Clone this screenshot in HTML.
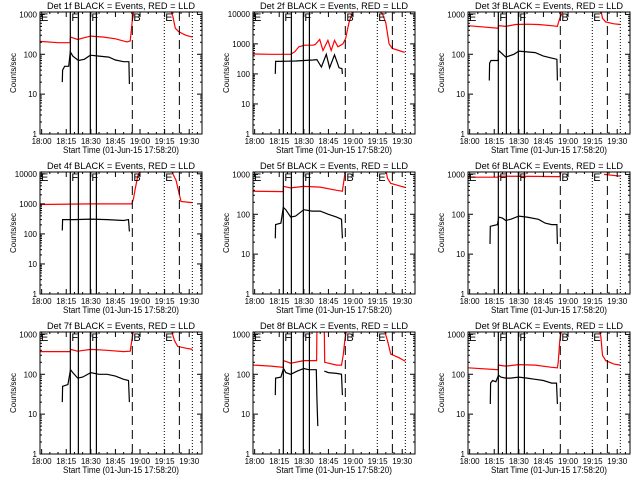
<!DOCTYPE html>
<html><head><meta charset="utf-8"><style>
html,body{margin:0;padding:0;background:#fff;}
svg{display:block;font-family:"Liberation Sans",sans-serif;}
</style></head><body>
<svg id="fig" width="640" height="480" viewBox="0 0 640 480" xmlns="http://www.w3.org/2000/svg"></svg>
<script>
// Time in minutes after 18:00
const xTickLabels = ["18:00","18:15","18:30","18:45","19:00","19:15","19:30"];
const xTickMinutes = [0,15,30,45,60,75,90];
const solidLines = [17.5,22.4,29.7,33.4];
const dashedLines = [55.3,84];
const dottedLines = [74.8,91.9];
const detNames = ["1f","2f","3f","4f","5f","6f","7f","8f","9f"];
const yMaxes = [1150,11500,1150,11500,1150,1150,1150,1150,1150];
const blackT1=[12.6,12.8,14,16.5,17.5,19,22.4,26,29.7,35,41,45,50,53.2,53.5];
const blackV1=[20,40,50,50,115,90,70,75,95,90,85,72,65,65,18];
const redT1a=[-1,10,17.4,17.6,22,26,30,38,45,52,54,55.3,56.5];
const redV1a=[210,195,195,270,235,260,285,270,245,205,215,700,1300];
const redT1b=[78.5,80,81.5,83.5,88,92];
const redV1b=[1300,900,450,370,300,270];
const blackT2=[12.6,12.8,14,20,25,30,35.6,38,40.7,43.7,45.7,48.7,51.5,53.2,53.5];
const blackV2=[100,260,260,265,270,280,290,300,170,450,160,430,160,150,100];
const redT2a=[-1,10,22,24.5,27,30.5,35.6,37,39.7,41.7,44.7,46.7,48.7,50.8,53.8,55.5,57.5,59,60];
const redV2a=[460,450,450,550,800,900,900,950,1400,600,1300,600,1300,800,1000,1500,5000,9000,13000];
const redT2b=[75.6,78,80,82,84,88,91.5];
const redV2b=[13000,10000,5000,1000,700,600,520];
const blackT3=[12,12.2,13,17.4,17.6,22,27,30,35,40,45,50,53.2,53.5];
const blackV3=[22,60,70,70,125,85,100,120,115,110,90,80,75,22];
const redT3a=[-1,17.4,17.6,22,28,35,42,50,53.5,54,55,56.5,57];
const redV3a=[520,450,520,500,560,570,560,520,500,600,800,1100,1300];
const redT3b=[80,81,83,88,92];
const redV3b=[1300,800,650,580,560];
const blackT4=[12.6,12.8,20,30,40,50,53,53.5];
const blackV4=[130,300,300,310,300,280,300,120];
const redT4a=[-1,30,55,56,57,58.5,60];
const redV4a=[950,1000,1000,1500,3000,8000,13000];
const redT4b=[79,80,82,84,85,88,92];
const redV4b=[13000,10000,6000,2000,1200,1150,1100];
const blackT5=[12.6,12.8,16,17.5,19,22,25,30,35,40,45,50,53,53.5];
const blackV5=[25,55,60,150,130,85,90,130,120,120,100,85,75,25];
const redT5a=[-1,17.4,17.6,22,30,40,50,53.5,54.2,55,55.5];
const redV5a=[380,370,500,460,500,480,400,380,600,1000,1300];
const redT5b=[80,81,83,88,92];
const redV5b=[1300,800,600,520,470];
const blackT6=[12.4,12.6,17,17.7,20,22,25,30,35,42,46,50,53.2,53.5];
const blackV6=[18,50,55,85,80,70,75,90,85,75,60,55,55,18];
const redT6a=[-1,17,18,40,55,56];
const redV6a=[850,850,900,890,880,1300];
const redT6b=[82,92];
const redV6b=[1000,900];
const blackT7=[12.6,12.8,16,17.6,19,22,25,30,35,40,45,50,53,53.5];
const blackV7=[20,50,55,130,110,80,85,110,100,100,90,75,70,20];
const redT7a=[-1,17.4,17.6,22,30,40,50,54,55,56];
const redV7a=[370,370,420,380,420,400,370,380,700,1300];
const redT7b=[79,81,83,88,92];
const redV7b=[1300,700,500,450,420];
const blackT8=[12.6,12.8,16,17.6,19,22,26,30,33,37.6,38,38.5,38.6,42.5,45,50,53,53.5];
const blackV8=[30,80,85,140,110,100,120,140,130,130,25,5,null,120,110,105,100,30];
const redT8a=[-1,10,17.4,17.6,22,30,37.8,38,38.1,42.5,42.7,45,50,53,54,55,56];
const redV8a=[170,160,150,220,190,220,220,1300,null,1300,200,190,170,170,300,700,1300];
const redT8b=[79,81,83,88,92];
const redV8b=[1300,700,320,260,210];
const blackT9=[12.6,12.8,14,16,17.6,19,22,25,30,35,40,45,50,53,53.5];
const blackV9=[18,60,70,65,95,85,80,80,85,80,75,70,60,60,18];
const redT9a=[-1,17.4,17.6,22,30,40,50,53.5,54,55,56];
const redV9a=[145,130,170,160,175,170,150,145,200,700,1300];
const redT9b=[79,80,81,83,88,92];
const redV9b=[1300,900,300,220,180,170];

const blackTs=[blackT1,blackT2,blackT3,blackT4,blackT5,blackT6,blackT7,blackT8,blackT9];
const blackVs=[blackV1,blackV2,blackV3,blackV4,blackV5,blackV6,blackV7,blackV8,blackV9];
const redTas=[redT1a,redT2a,redT3a,redT4a,redT5a,redT6a,redT7a,redT8a,redT9a];
const redVas=[redV1a,redV2a,redV3a,redV4a,redV5a,redV6a,redV7a,redV8a,redV9a];
const redTbs=[redT1b,redT2b,redT3b,redT4b,redT5b,redT6b,redT7b,redT8b,redT9b];
const redVbs=[redV1b,redV2b,redV3b,redV4b,redV5b,redV6b,redV7b,redV8b,redV9b];
const markerLetters=["E","F","F","B","E"];
const markerTimes=[-1,17.5,29.7,55.3,74.8];

const NS="http://www.w3.org/2000/svg";
const svg=document.getElementById('fig');
function mk(tag,attrs,parent){const e=document.createElementNS(NS,tag);for(const k in attrs)e.setAttribute(k,attrs[k]);(parent||svg).appendChild(e);return e;}
const colX=[40,253,468], rowY=[12,172,332], W=162, H=122;
const tMin=-1, tMax=97.8;

for(let p=0;p<9;p++){
  const L=colX[p%3], T=rowY[Math.floor(p/3)], B=T+H, R=L+W;
  const yMax=yMaxes[p];
  const xs=t=>L+(t-tMin)/(tMax-tMin)*W;
  const ys=v=>B-Math.log10(v)/Math.log10(yMax)*H;
  const g=mk('g',{});
  
  
  const clipId='clip'+p;
  const cp=mk('clipPath',{id:clipId},g); mk('rect',{x:L,y:T,width:W,height:H},cp);
  const title=mk('text',{x:L+W/2,y:T-3,'font-size':9,'text-anchor':'middle',textLength:148,lengthAdjust:'spacingAndGlyphs'},g);
  title.textContent='Det '+detNames[p]+' BLACK = Events, RED = LLD';
  
  
  function line(ts,vs,color,name){
    let d='',pen=false;
    for(let i=0;i<ts.length;i++){
      if(vs[i]===null){pen=false;continue;}
      d+=(pen?'L':'M')+xs(ts[i]).toFixed(1)+' '+ys(vs[i]).toFixed(1)+' ';pen=true;
    }
    const e=mk('path',{d:d,fill:'none',stroke:color,'stroke-width':1.2,'clip-path':'url(#'+clipId+')'},g);
    
    
  }
  line(redTas[p],redVas[p],'#ff0000','lld-series');
  line(redTbs[p],redVbs[p],'#ff0000','lld-series-late');
  line(blackTs[p],blackVs[p],'#000','events-series');
  solidLines.forEach(t=>{const e=mk('line',{x1:xs(t),x2:xs(t),y1:T,y2:B,stroke:'#000','stroke-width':1.2},g);
    
    });
  dashedLines.forEach(t=>{const e=mk('line',{x1:xs(t),x2:xs(t),y1:T,y2:B,stroke:'#000','stroke-width':1,'stroke-dasharray':'9,5'},g);
    
    });
  dottedLines.forEach(t=>{const e=mk('line',{x1:xs(t),x2:xs(t),y1:T,y2:B,stroke:'#000','stroke-width':1,'stroke-dasharray':'1,2'},g);
    
    });
  markerLetters.forEach((s,i)=>{const e=mk('text',{x:xs(markerTimes[i])+1,y:T+9,'font-size':11},g);e.textContent=s;
    
    });
  const box=mk('rect',{x:L,y:T,width:W,height:H,fill:'none',stroke:'#000','stroke-width':1},g);
  
  
  xTickMinutes.forEach((m,i)=>{
    const x=xs(m);
    mk('line',{x1:x,x2:x,y1:B,y2:B-5,stroke:'#000'},g);
    mk('line',{x1:x,x2:x,y1:T,y2:T+5,stroke:'#000'},g);
    const e=mk('text',{x:x,y:B+10,'font-size':8,'text-anchor':'middle'},g);e.textContent=xTickLabels[i];
    
    
  });
  for(let m=5;m<96;m+=5){if(m%15){const x=xs(m);mk('line',{x1:x,x2:x,y1:B,y2:B-2,stroke:'#000'},g);mk('line',{x1:x,x2:x,y1:T,y2:T+2,stroke:'#000'},g);}}
  const decs=Math.floor(Math.log10(yMax));
  for(let d=0;d<=decs;d++){
    const v=Math.pow(10,d),y=ys(v);
    mk('line',{x1:L,x2:L+5,y1:y,y2:y,stroke:'#000'},g);
    mk('line',{x1:R,x2:R-5,y1:y,y2:y,stroke:'#000'},g);
    const e=mk('text',{x:L-3,y:y+3,'font-size':8,'text-anchor':'end'},g);e.textContent=String(v);
    
    
    for(let k=2;k<10;k++){const vv=v*k;if(vv>yMax)break;const yy=ys(vv);
      mk('line',{x1:L,x2:L+2,y1:yy,y2:yy,stroke:'#000'},g);mk('line',{x1:R,x2:R-2,y1:yy,y2:yy,stroke:'#000'},g);}
  }
  const xt=mk('text',{x:L+W/2,y:B+19,'font-size':9,'text-anchor':'middle',textLength:116,lengthAdjust:'spacingAndGlyphs'},g);
  xt.textContent='Start Time (01-Jun-15 17:58:20)';
  
  
  const cy=T+H/2;
  const yt=mk('text',{x:L-24,y:cy,'font-size':8,'text-anchor':'middle',transform:'rotate(-90 '+(L-24)+' '+cy+')'},g);
  yt.textContent='Counts/sec';
  
  
}
</script>
</body></html>
